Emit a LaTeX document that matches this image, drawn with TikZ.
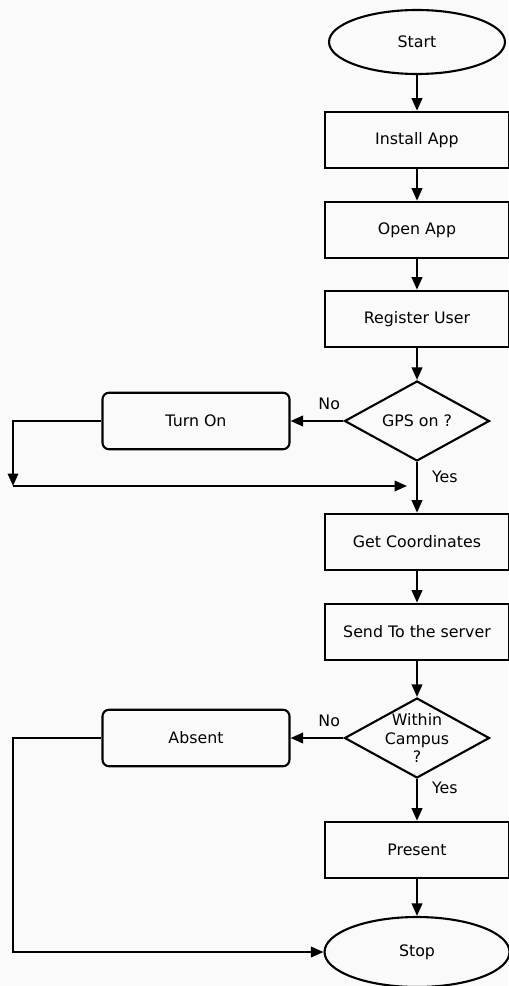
\documentclass[tikz,border=0pt]{standalone}
\usepackage{fontspec}
\setmainfont{DejaVu Sans}
\usepackage{tikz}
\usetikzlibrary{shapes.geometric,arrows.meta}

\begin{document}
\begin{tikzpicture}[x=0.02cm,y=-0.02cm,
    font=\fontsize{9}{10.4}\selectfont,
    every node/.style={inner sep=0pt},
    box/.style={draw,line width=1.2pt,minimum width=3.68cm,minimum height=1.13cm},
    roundbox/.style={box,rounded corners=0.13cm,minimum width=3.74cm},
    terminal/.style={draw,ellipse,line width=1.2pt},
    decision/.style={draw,diamond,line width=1.2pt,minimum width=2.9cm,minimum height=1.6cm},
    arr/.style={line width=1.2pt,-{Triangle[length=2.5mm,width=2.1mm]}}]
  \useasboundingbox (0,0) rectangle (508,986);
  \fill [gray!4] (0,0) rectangle (508,986);
  % main column
  \node[terminal,minimum width=3.52cm,minimum height=1.28cm] (start) at (417,42) {Start};
  \node[box] (install) at (417,140) {Install App};
  \node[box] (open) at (417,230) {Open App};
  \node[box] (register) at (417,319) {Register User};
  \node[decision] (gps) at (417,421) {};
  \node (gpstext) at (gps) {GPS on ?};
  \node[box] (coords) at (417,542) {Get Coordinates};
  \node[box] (send) at (417,632) {Send To the server};
  \node[decision] (campus) at (417,738) {};
  \node[align=center] (campustext) at (campus) {Within\\Campus\\?};
  \node[box] (present) at (417,850) {Present};
  \node[terminal,minimum width=3.7cm,minimum height=1.4cm] (stop) at (417,952) {Stop};
  % side boxes
  \node[roundbox] (turnon) at (196,421) {Turn On};
  \node[roundbox] (absent) at (196,738) {Absent};
  \coordinate (loopa) at (13,486);
  \coordinate (loopb) at (407,486);
  \coordinate (loopc) at (13,952);
  % arrows
  \foreach \a/\b in {start/install,install/open,open/register,register/gps,coords/send,send/campus,present/stop}
    \draw[arr] (\a) -- (\b);
  \draw[arr] (gps) -- node[pos=0.29,right=8pt] (yesa) {Yes} (coords);
  \draw[arr] (campus) -- node[pos=0.22,right=8pt] (yesb) {Yes} (present);
  \draw[arr] (gps.west) -- node[pos=0.27,above=6pt] (noa) {No} (turnon.east);
  \draw[arr] (campus.west) -- node[pos=0.27,above=6pt] (nob) {No} (absent.east);
  \draw[arr] (turnon.west) -| (loopa);
  \draw[arr] (loopa) -- (loopb);
  \draw[arr] (absent.west) -| (loopc) -- (stop.west);
\end{tikzpicture}
\end{document}
